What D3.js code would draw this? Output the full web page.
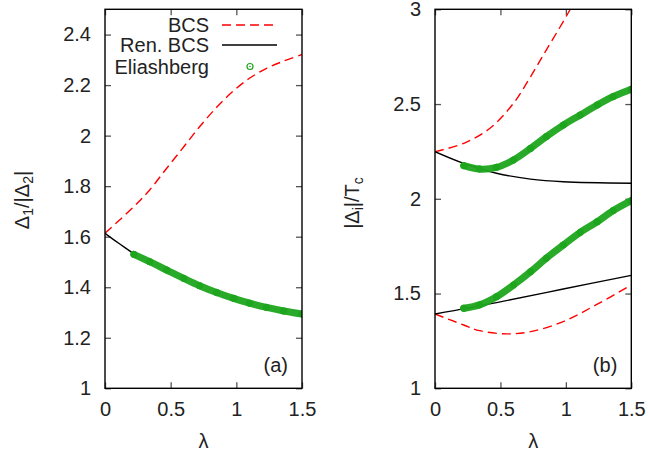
<!DOCTYPE html>
<html><head><meta charset="utf-8">
<script src="https://cdn.jsdelivr.net/npm/d3@7"></script>
<style>
html,body{margin:0;padding:0;background:#fff;}
svg text{font-family:"Liberation Sans",Arial,Helvetica,sans-serif;fill:#222;}
</style></head>
<body><svg id="c" width="648" height="454"></svg>
<script>
// ---- Panel (a): Δ1/|Δ2| vs λ ----
const aBcsL   = [0, 0.22, 0.34, 0.47, 0.6, 0.72, 0.85, 0.98, 1.1, 1.23, 1.36, 1.5];
const aBcsV   = [1.614, 1.719, 1.785, 1.871, 1.956, 2.035, 2.112, 2.178, 2.227, 2.266, 2.295, 2.321];
const aRenL   = [0, 0.11, 0.22];
const aRenV   = [1.613, 1.572, 1.532];
const aEliL   = [0.22, 0.34, 0.47, 0.6, 0.72, 0.85, 0.98, 1.1, 1.23, 1.36, 1.5];
const aEliV   = [1.530, 1.501, 1.468, 1.435, 1.406, 1.379, 1.356, 1.337, 1.320, 1.306, 1.294];
// ---- Panel (b): |Δi|/Tc vs λ ----
const bBcs1L  = [0, 0.22, 0.42, 0.6, 0.73, 0.85, 0.98, 1.05, 1.12];
const bBcs1V  = [2.249, 2.293, 2.372, 2.504, 2.644, 2.785, 2.935, 3.02, 3.1];
const bBcs2L  = [0, 0.22, 0.34, 0.55, 0.73, 0.98, 1.23, 1.5];
const bBcs2V  = [1.392, 1.334, 1.304, 1.287, 1.299, 1.352, 1.44, 1.545];
const bRen1L  = [0, 0.22, 0.47, 0.73, 0.98, 1.5];
const bRen1V  = [2.249, 2.187, 2.135, 2.104, 2.090, 2.082];
const bRen2L  = [0, 0.47, 0.98, 1.5];
const bRen2V  = [1.392, 1.452, 1.524, 1.596];
const bEli1L  = [0.22, 0.34, 0.47, 0.6, 0.73, 0.85, 0.98, 1.11, 1.24, 1.36, 1.5];
const bEli1V  = [2.175, 2.157, 2.166, 2.205, 2.266, 2.328, 2.389, 2.442, 2.495, 2.539, 2.578];
const bEli2L  = [0.22, 0.34, 0.47, 0.6, 0.73, 0.85, 0.98, 1.11, 1.24, 1.36, 1.5];
const bEli2V  = [1.422, 1.44, 1.483, 1.545, 1.615, 1.686, 1.756, 1.823, 1.879, 1.937, 1.99];

const xTicks = [0, 0.5, 1, 1.5];
const aYTicks = [1, 1.2, 1.4, 1.6, 1.8, 2, 2.2, 2.4];
const bYTicks = [1, 1.5, 2, 2.5, 3];
const legendLabels = ["BCS", "Ren. BCS", "Eliashberg"];

const RED = "#ff0000", GREEN = "#1ea51e";
const svg = d3.select("#c");
const zip = (L, V) => L.map((l, i) => [l, V[i]]);

function panel(opt) {
  const x = d3.scaleLinear().domain([0, 1.5]).range([opt.x0, opt.x1]);
  const y = d3.scaleLinear().domain(opt.yDom).range([388.3, 9.3]);
  const g = svg.append("g");
  const clipId = "clip" + opt.id;
  svg.append("clipPath").attr("id", clipId).append("rect")
    .attr("x", opt.x0).attr("y", 9.3).attr("width", opt.x1 - opt.x0).attr("height", 379);
  const tk = 6;
  const axB = d3.axisBottom(x).tickValues(xTicks).tickSize(-tk).tickFormat(d => d).tickPadding(14);
  const axT = d3.axisTop(x).tickValues(xTicks).tickSize(-tk).tickFormat("");
  const axL = d3.axisLeft(y).tickValues(opt.yTicks).tickSize(-tk).tickFormat(d => d).tickPadding(14);
  const axR = d3.axisRight(y).tickValues(opt.yTicks).tickSize(-tk).tickFormat("");
  [[axB, `translate(0,388.3)`], [axT, `translate(0,9.3)`], [axL, `translate(${opt.x0},0)`], [axR, `translate(${opt.x1},0)`]]
    .forEach(([ax, tr]) => {
      const a = g.append("g").attr("transform", tr).call(ax);
      a.select(".domain").remove();
      a.selectAll(".tick line").attr("stroke", "#555").attr("stroke-width", 1.3);
      a.selectAll(".tick text").style("font-size", "20px").attr("fill", "#222");
    });
  const line = d3.line().x(d => x(d[0])).y(d => y(d[1])).curve(d3.curveCatmullRom.alpha(0.5));
  const plot = g.append("g").attr("clip-path", `url(#${clipId})`);
  opt.bcs.forEach(s => plot.append("path").attr("d", line(s)).attr("fill", "none")
    .attr("stroke", RED).attr("stroke-width", 1.4).attr("stroke-dasharray", "9,5"));
  opt.ren.forEach(s => plot.append("path").attr("d", line(s)).attr("fill", "none")
    .attr("stroke", "#000").attr("stroke-width", 1.4));
  opt.eli.forEach(s => {
    plot.append("path").attr("d", line(s)).attr("fill", "none")
      .attr("stroke", GREEN).attr("stroke-width", 7).attr("stroke-linecap", "round").attr("opacity", 0.95);
    plot.selectAll(null).data(s).enter().append("circle")
      .attr("cx", d => x(d[0])).attr("cy", d => y(d[1])).attr("r", 3.2)
      .attr("fill", GREEN).attr("stroke", GREEN);
  });
  g.append("rect").attr("x", opt.x0).attr("y", 9.3).attr("width", opt.x1 - opt.x0).attr("height", 379)
    .attr("fill", "none").attr("stroke", "#000").attr("stroke-width", 1.4);
  g.append("text").attr("x", opt.x1 - 14).attr("y", 372).attr("text-anchor", "end")
    .style("font-size", "20px").text(opt.tag);
  g.append("text").attr("x", (opt.x0 + opt.x1) / 2).attr("y", 448).attr("text-anchor", "middle")
    .style("font-size", "20px").text("λ");
  return { x, y, g };
}

panel({ id: "a", x0: 105, x1: 302, yDom: [1, 2.5], yTicks: aYTicks, tag: "(a)",
  bcs: [zip(aBcsL, aBcsV)], ren: [zip(aRenL, aRenV)], eli: [zip(aEliL, aEliV)] });
panel({ id: "b", x0: 435, x1: 631.3, yDom: [1, 3], yTicks: bYTicks, tag: "(b)",
  bcs: [zip(bBcs1L, bBcs1V), zip(bBcs2L, bBcs2V)], ren: [zip(bRen1L, bRen1V), zip(bRen2L, bRen2V)],
  eli: [zip(bEli1L, bEli1V), zip(bEli2L, bEli2V)] });

const yl = svg.append("text").attr("transform", "translate(29,200) rotate(-90)")
  .attr("text-anchor", "middle").style("font-size", "20px");
yl.append("tspan").text("Δ");
yl.append("tspan").attr("baseline-shift", "-25%").style("font-size", "14px").text("1");
yl.append("tspan").text("/|Δ");
yl.append("tspan").attr("baseline-shift", "-25%").style("font-size", "14px").text("2");
yl.append("tspan").text("|");

const yr = svg.append("text").attr("transform", "translate(359,203) rotate(-90)")
  .attr("text-anchor", "middle").style("font-size", "20px");
yr.append("tspan").text("|Δ");
yr.append("tspan").attr("baseline-shift", "-25%").style("font-size", "14px").text("i");
yr.append("tspan").text("|/T");
yr.append("tspan").attr("baseline-shift", "-25%").style("font-size", "14px").text("c");

const leg = svg.append("g");
const rowsY = [25, 45, 66.5];
legendLabels.forEach((t, i) => {
  leg.append("text").attr("x", 209).attr("y", rowsY[i]).attr("dy", "0.35em")
    .attr("text-anchor", "end").style("font-size", "20px").text(t);
});
leg.append("line").attr("x1", 222).attr("x2", 277).attr("y1", rowsY[0]).attr("y2", rowsY[0])
  .attr("stroke", RED).attr("stroke-width", 1.4).attr("stroke-dasharray", "9,5");
leg.append("line").attr("x1", 222).attr("x2", 277).attr("y1", rowsY[1]).attr("y2", rowsY[1])
  .attr("stroke", "#000").attr("stroke-width", 1.4);
leg.append("circle").attr("cx", 250).attr("cy", rowsY[2]).attr("r", 3).attr("fill", "none")
  .attr("stroke", GREEN).attr("stroke-width", 1.2);
leg.append("circle").attr("cx", 250).attr("cy", rowsY[2]).attr("r", 0.8).attr("fill", GREEN);
</script></body></html>
